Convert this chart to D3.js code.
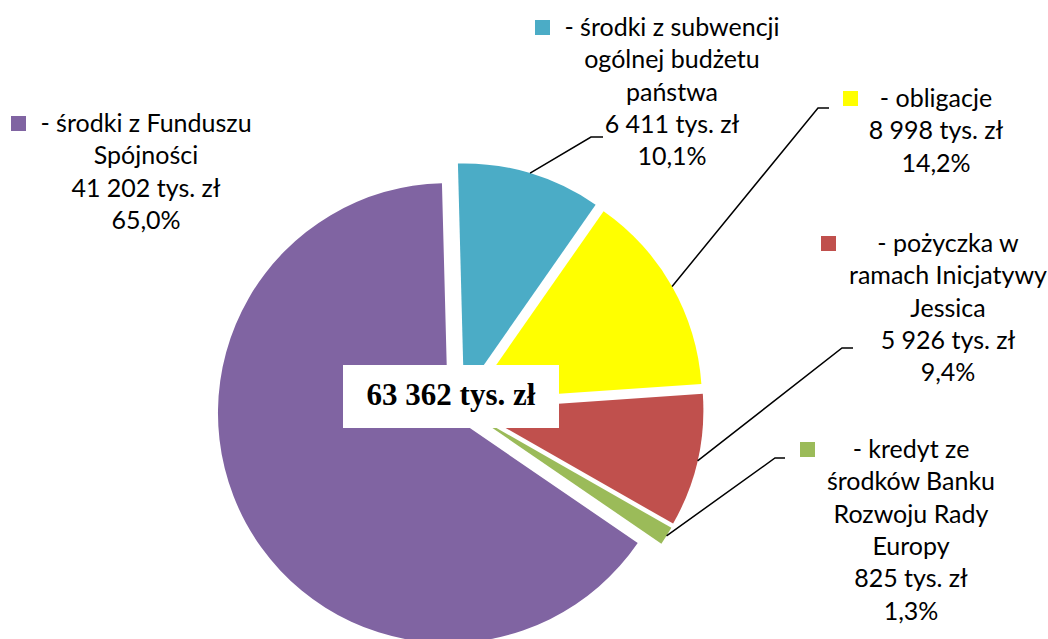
<!DOCTYPE html>
<html>
<head>
<meta charset="utf-8">
<script src="https://cdn.jsdelivr.net/npm/d3@7"></script>
<style>
  body { margin: 0; background: #fff; }
  svg { display: block; }
</style>
</head>
<body>
<svg id="pie"></svg>
<script>
// data, in the order the slices run clockwise from the top
const categories = [
  ["- środki z subwencji", "ogólnej budżetu", "państwa"],
  ["- obligacje"],
  ["- pożyczka w", "ramach Inicjatywy", "Jessica"],
  ["- kredyt ze", "środków Banku", "Rozwoju Rady", "Europy"],
  ["- środki z Funduszu", "Spójności"]
];
const values = [6411, 8998, 5926, 825, 41202];
const colors = ["#4BACC6", "#FFFF00", "#C0504D", "#9BBB59", "#8064A2"];
const totalLabel = "63 362 tys. zł";

// label placement: centre x, first baseline, marker x, leader elbow
const labelLayout = [
  { cx: 672, y: 36, mx: 535, elbow: [591, 137], end: 603 },
  { cx: 936, y: 107, mx: 843, elbow: [818, 108], end: 829 },
  { cx: 948, y: 252, mx: 821, elbow: [842, 348], end: 853 },
  { cx: 911, y: 458, mx: 800, elbow: [775, 458], end: 785 },
  { cx: 146, y: 132, mx: 11, elbow: null }
];

const width = 1048, height = 639;
const cx = 460, cy = 406.5, radius = 230, explode = 13.7;
const rot = -1.5 * Math.PI / 180;
const lineH = 32.3;

const svg = d3.select("#pie").attr("width", width).attr("height", height);

const total = d3.sum(values);
const numFmt = d3.formatLocale({ decimal: ",", thousands: " ", grouping: [3] });
const fmtInt = numFmt.format(",d");
const fmtPct = numFmt.format(".1f");

const pie = d3.pie().sort(null).value(d => d).startAngle(rot).endAngle(rot + 2 * Math.PI);
const arcs = pie(values);
const arc = d3.arc().innerRadius(0).outerRadius(radius);

const g = svg.append("g").attr("transform", `translate(${cx},${cy})`);

function offset(d, r) {
  const a = (d.startAngle + d.endAngle) / 2;
  return [r * Math.sin(a), -r * Math.cos(a)];
}

g.selectAll("path")
  .data(arcs)
  .join("path")
  .attr("d", arc)
  .attr("fill", (d, i) => colors[i])
  .attr("transform", d => {
    const [dx, dy] = offset(d, explode);
    return `translate(${dx},${dy})`;
  });

// leader lines: from the middle of the outer arc to the label
arcs.forEach((d, i) => {
  const lay = labelLayout[i];
  if (!lay.elbow) return;
  const [ex, ey] = offset(d, explode);
  const [ax, ay] = offset(d, radius);
  const p0 = [cx + ex + ax, cy + ey + ay];
  svg.append("polyline")
    .attr("points", [p0, lay.elbow, [lay.end, lay.elbow[1]]].map(p => p.join(",")).join(" "))
    .attr("fill", "none")
    .attr("stroke", "#000")
    .attr("stroke-width", 1.5);
});

// data labels
arcs.forEach((d, i) => {
  const lay = labelLayout[i];
  const lines = categories[i].concat([
    fmtInt(values[i]) + " tys. zł",
    fmtPct(values[i] / total * 100) + "%"
  ]);
  const t = svg.append("text")
    .attr("x", lay.cx)
    .attr("y", lay.y)
    .attr("text-anchor", "middle")
    .style("font-family", "Lato, 'Open Sans', sans-serif")
    .style("font-size", "25px")
    .attr("fill", "#000");
  lines.forEach((s, j) => {
    t.append("tspan").attr("x", lay.cx).attr("y", lay.y + j * lineH).text(s);
  });
  svg.append("rect")
    .attr("x", lay.mx)
    .attr("y", lay.y - 16)
    .attr("width", 15)
    .attr("height", 15)
    .attr("fill", colors[i]);
});

// total in the middle
svg.append("rect")
  .attr("x", 343).attr("y", 365)
  .attr("width", 216).attr("height", 63)
  .attr("fill", "#fff");
svg.append("text")
  .attr("x", 451).attr("y", 405)
  .attr("text-anchor", "middle")
  .style("font-family", "'Liberation Serif', 'Times New Roman', serif")
  .style("font-weight", "bold")
  .style("font-size", "31px")
  .text(totalLabel);
</script>
</body>
</html>
